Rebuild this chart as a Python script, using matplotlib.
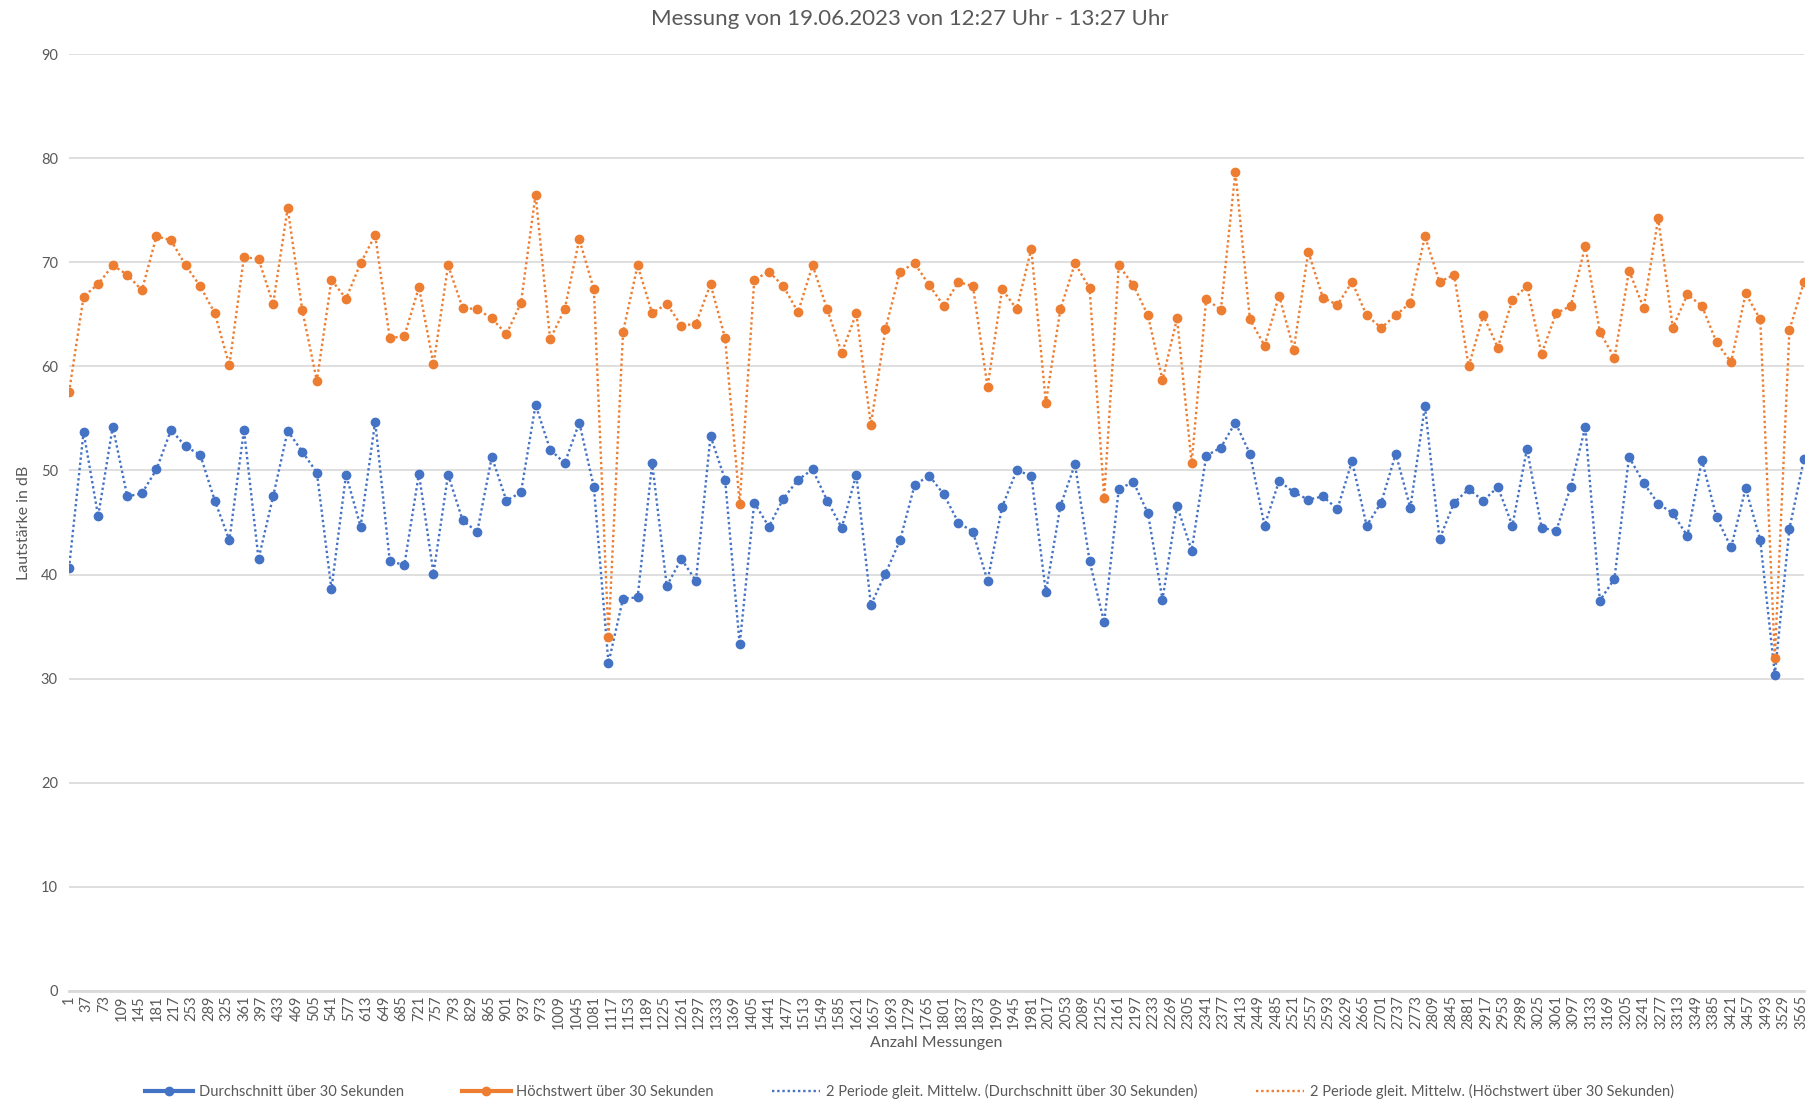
import numpy as np
import matplotlib
matplotlib.use("Agg")
import matplotlib.pyplot as plt
from matplotlib.lines import Line2D

plt.rcParams["font.family"] = ["Lato", "DejaVu Sans"]

# one value every 30 measurements, category labels every 36 measurements
messung = np.arange(1, 3572, 30)
tick_labels = np.arange(1, 3566, 36)

durchschnitt = [
    40.6, 53.7, 45.6, 54.2, 47.5, 47.8, 50.1, 53.9, 52.3, 51.5,
    47.1, 43.3, 53.9, 41.5, 47.5, 53.8, 51.8, 49.8, 38.6, 49.6,
    44.6, 54.7, 41.3, 40.9, 49.7, 40.1, 49.6, 45.2, 44.1, 51.3,
    47.1, 47.9, 56.3, 52.0, 50.7, 54.6, 48.4, 31.5, 37.7, 37.8,
    50.7, 38.9, 41.5, 39.4, 53.3, 49.1, 33.3, 46.9, 44.6, 47.3,
    49.1, 50.1, 47.1, 44.5, 49.6, 37.1, 40.1, 43.3, 48.6, 49.5,
    47.7, 45.0, 44.1, 39.4, 46.5, 50.0, 49.5, 38.3, 46.6, 50.6,
    41.3, 35.4, 48.2, 48.9, 45.9, 37.6, 46.6, 42.3, 51.4, 52.2,
    54.6, 51.6, 44.7, 49.0, 47.9, 47.2, 47.5, 46.3, 50.9, 44.7,
    46.9, 51.6, 46.4, 56.2, 43.4, 46.9, 48.2, 47.1, 48.4, 44.7,
    52.1, 44.5, 44.2, 48.4, 54.2, 37.5, 39.6, 51.3, 48.8, 46.8,
    45.9, 43.7, 51.0, 45.5, 42.6, 48.3, 43.3, 30.4, 44.4, 51.1,
]

hoechstwert = [
    57.5, 66.7, 67.9, 69.7, 68.8, 67.3, 72.5, 72.1, 69.7, 67.7,
    65.1, 60.1, 70.5, 70.3, 66.0, 75.2, 65.4, 58.6, 68.3, 66.5,
    69.9, 72.6, 62.7, 62.9, 67.6, 60.2, 69.7, 65.6, 65.5, 64.6,
    63.1, 66.1, 76.5, 62.6, 65.5, 72.2, 67.4, 34.0, 63.3, 69.7,
    65.1, 66.0, 63.9, 64.1, 67.9, 62.7, 46.8, 68.3, 69.1, 67.7,
    65.2, 69.7, 65.5, 61.3, 65.1, 54.4, 63.6, 69.1, 69.9, 67.8,
    65.8, 68.1, 67.7, 58.0, 67.4, 65.5, 71.3, 56.5, 65.5, 69.9,
    67.5, 47.4, 69.7, 67.8, 64.9, 58.7, 64.6, 50.7, 66.5, 65.4,
    78.7, 64.5, 62.0, 66.8, 61.6, 71.0, 66.6, 65.9, 68.1, 64.9,
    63.7, 64.9, 66.1, 72.5, 68.1, 68.8, 60.0, 64.9, 61.8, 66.4,
    67.7, 61.2, 65.1, 65.8, 71.6, 63.3, 60.8, 69.2, 65.6, 74.2,
    63.7, 66.9, 65.8, 62.3, 60.4, 67.0, 64.5, 32.0, 63.5, 68.1,
]

blue = "#4472C4"
orange = "#ED7D31"
grey = "#595959"
dots = (0, (1, 1.2))

fig = plt.figure(figsize=(18.19, 11.05), dpi=100)
ax = fig.add_axes([69 / 1819, 1 - 991 / 1105, 1735 / 1819, 937 / 1105])

# trendlines (dotted) and markers
ax.plot(messung, durchschnitt, color=blue, lw=1.7, ls=dots, zorder=2)
ax.plot(messung, durchschnitt, "o", color=blue, ms=6, zorder=3)
ax.plot(messung, hoechstwert, color=orange, lw=1.7, ls=dots, zorder=4)
ax.plot(messung, hoechstwert, "o", color=orange, ms=6, zorder=5)

ax.set_xlim(messung[0], messung[-1])
ax.set_ylim(0, 90)
ax.set_yticks(range(0, 91, 10))
ax.set_xticks(tick_labels)
ax.set_xticklabels([str(t) for t in tick_labels], rotation=90, fontsize=10.5, color=grey)
ax.tick_params(axis="y", labelsize=10.5, labelcolor=grey, length=0, pad=8)
ax.tick_params(axis="x", length=0, pad=3)

ax.grid(axis="y", color="#D9D9D9", lw=1.2)
ax.set_axisbelow(True)
for side in ["top", "right", "left"]:
    ax.spines[side].set_visible(False)
ax.spines["bottom"].set_color("#D9D9D9")
ax.spines["bottom"].set_linewidth(2)

ax.set_xlabel("Anzahl Messungen", fontsize=11.5, color=grey)
ax.xaxis.set_label_coords(0.5, -0.048)
ax.set_ylabel("Lautstärke in dB", fontsize=11.5, color=grey, va="center")
ax.yaxis.set_label_coords(-0.026, 0.5)

fig.suptitle("Messung von 19.06.2023 von 12:27 Uhr - 13:27 Uhr",
             y=0.983, va="center", fontsize=16, color=grey)

handles = [
    Line2D([], [], color=blue, lw=3, marker="o", ms=6),
    Line2D([], [], color=orange, lw=3, marker="o", ms=6),
    Line2D([], [], color=blue, lw=1.7, ls=dots),
    Line2D([], [], color=orange, lw=1.7, ls=dots),
]
labels = [
    "Durchschnitt über 30 Sekunden",
    "Höchstwert über 30 Sekunden",
    "2 Periode gleit. Mittelw. (Durchschnitt über 30 Sekunden)",
    "2 Periode gleit. Mittelw. (Höchstwert über 30 Sekunden)",
]
leg = fig.legend(handles, labels, loc="center", bbox_to_anchor=(0.5, 0.012),
                 ncol=4, frameon=False, fontsize=10.5, handlelength=3.3,
                 handletextpad=0.4, columnspacing=4.0)
for t in leg.get_texts():
    t.set_color(grey)

fig.savefig("out.png", dpi=100)
